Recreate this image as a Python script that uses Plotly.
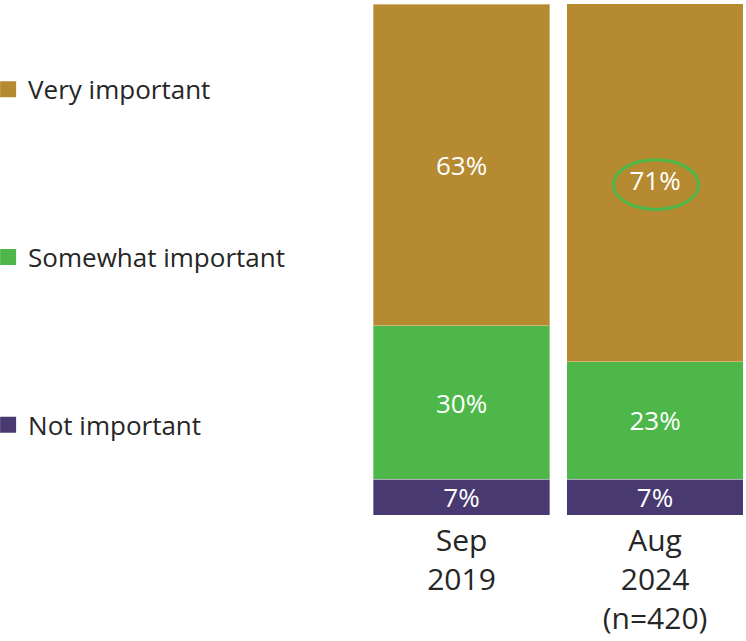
import plotly.graph_objects as go

categories = ["Sep<br>2019", "Aug<br>2024<br>(n=420)"]
series_names = ["Not important", "Somewhat important", "Very important"]
not_important = [7, 7]
somewhat_important = [30, 23]
very_important = [63, 71]
colors = ["#483A70", "#4DB849", "#B58A30"]
legend_ranks = [3, 2, 1]

x_pos = [0, 1]
fig = go.Figure()
for name, vals, col in zip(series_names, [not_important, somewhat_important, very_important], colors):
    fig.add_trace(go.Bar(
        x=x_pos, y=vals, name=name, legendgroup=name, showlegend=False,
        marker=dict(color=col, line=dict(color="rgba(255,255,255,0.35)", width=1)),
        width=0.912,
        text=[f"{v}%" for v in vals], textposition="inside", insidetextanchor="middle",
        constraintext="none",
        textfont=dict(color="white", size=26, family="Open Sans"),
        hoverinfo="skip",
    ))

# legend entries with larger square swatches
for name, col, rank in zip(series_names, colors, legend_ranks):
    fig.add_trace(go.Scatter(
        x=[None], y=[None], mode="markers", name=name, legendgroup=name, legendrank=rank,
        marker=dict(symbol="square", size=16, color=col), showlegend=True, hoverinfo="skip",
    ))

# highlight ellipse around the 71% label
fig.add_shape(type="circle", xref="x", yref="y", x0=0.785, x1=1.225, y0=59.8, y1=69.5,
              line=dict(color="#4DB849", width=3))

fig.update_layout(
    width=746, height=641,
    barmode="stack",
    paper_bgcolor="white", plot_bgcolor="white",
    margin=dict(l=364, r=0, t=4, b=126, autoexpand=False),
    font=dict(family="Open Sans", color="#262626"),
    showlegend=True,
    legend=dict(
        x=-0.984, y=0.879, yanchor="top", xanchor="left",
        traceorder="grouped", tracegroupgap=131, itemsizing="trace",
        font=dict(size=26, color="#262626", family="Open Sans"),
        bgcolor="rgba(0,0,0,0)",
    ),
    xaxis=dict(range=[-0.504, 1.470], tickvals=x_pos, ticktext=categories,
               showgrid=False, zeroline=False, showline=False, ticks="", automargin=False,
               ticklabelstandoff=5,
               tickfont=dict(size=30, color="#262626", family="Open Sans")),
    yaxis=dict(range=[0, 100], visible=False, showgrid=False, zeroline=False, automargin=False),
)

fig.write_html("out.html", config={"displayModeBar": False},
               post_script="document.body.style.margin='0px';")
